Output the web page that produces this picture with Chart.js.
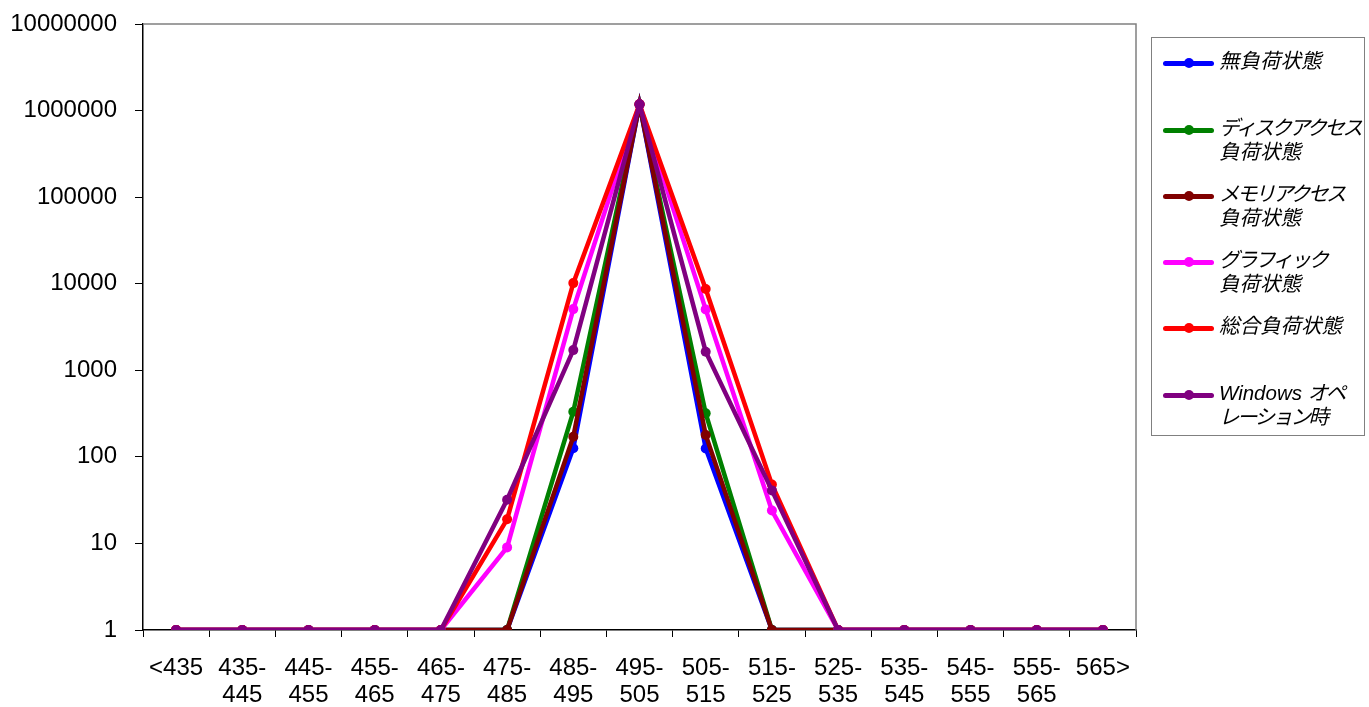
<!DOCTYPE html>
<html>
<head>
<meta charset="utf-8">
<script src="https://cdn.jsdelivr.net/npm/chart.js@4/dist/chart.umd.min.js"></script>
<style>
    html, body { margin: 0; padding: 0; background: #fff; }
    #wrap { position: relative; width: 1369px; height: 707px; }
    #legend {
        position: absolute; left: 1151px; top: 37px; width: 214px; height: 399px;
        border: 1px solid #808080; box-sizing: border-box;
        font-family: 'Liberation Sans', 'Noto Sans CJK JP', sans-serif;
        font-style: italic; font-size: 20.5px; color: #000;
    }
    .item { position: absolute; left: 0; }
    .item .mark { position: absolute; left: 11px; width: 51px; height: 5px; border-radius: 2.5px; top: -0.5px; }
    .item .dot { position: absolute; left: 32px; width: 10px; height: 10px; border-radius: 50%; top: -3px; }
    .item .txt { position: absolute; left: 67px; top: -12px; white-space: nowrap; line-height: 24px; }
    .item .kana { letter-spacing: -2.5px; }
</style>
</head>
<body>
<div id="wrap">
    <canvas id="chart" width="1369" height="707"></canvas>
    <div id="legend"></div>
</div>
<script>
// ============================================================
// DATA
// ============================================================
const categories = [
    ['<435'], ['435-', '445'], ['445-', '455'], ['455-', '465'], ['465-', '475'],
    ['475-', '485'], ['485-', '495'], ['495-', '505'], ['505-', '515'], ['515-', '525'],
    ['525-', '535'], ['535-', '545'], ['545-', '555'], ['555-', '565'], ['565>']
];

const yTicks = [1, 10, 100, 1000, 10000, 100000, 1000000, 10000000];

const seriesNames = [
    ['無負荷状態'],
    ['ディスクアクセス', '負荷状態'],
    ['メモリアクセス', '負荷状態'],
    ['グラフィック', '負荷状態'],
    ['総合負荷状態'],
    ['Windows オペ', 'レーション時']
];

const noLoad   = [1, 1, 1, 1, 1, 1, 126, 1180000, 125, 1, 1, 1, 1, 1, 1];
const diskLoad = [1, 1, 1, 1, 1, 1, 332, 1180000, 318, 1, 1, 1, 1, 1, 1];
const memLoad  = [1, 1, 1, 1, 1, 1, 171, 1180000, 179, 1, 1, 1, 1, 1, 1];
const gfxLoad  = [1, 1, 1, 1, 1, 9, 5090, 1180000, 5050, 24, 1, 1, 1, 1, 1];
const allLoad  = [1, 1, 1, 1, 1, 19, 10160, 1180000, 8670, 48, 1, 1, 1, 1, 1];
const winOp    = [1, 1, 1, 1, 1, 32, 1710, 1180000, 1640, 41, 1, 1, 1, 1, 1];

const seriesData = [noLoad, diskLoad, memLoad, gfxLoad, allLoad, winOp];
const seriesColors = ['#0000ff', '#008000', '#800000', '#ff00ff', '#ff0000', '#800080'];

// ============================================================
// CHART
// ============================================================
const xFont = { family: 'Liberation Sans', size: 24, lineHeight: 1.13 };
// small lineHeight only shrinks the overflow padding at the top label
const yFont = { family: 'Liberation Sans', size: 24, lineHeight: 0.5 };

// gray border on top and right of plot area
const plotBorder = {
    id: 'plotBorder',
    beforeDatasetsDraw: function (chart) {
        const a = chart.chartArea, c = chart.ctx;
        c.save();
        c.strokeStyle = '#808080';
        c.lineWidth = 1.5;
        c.beginPath();
        c.moveTo(a.left, a.top);
        c.lineTo(a.right, a.top);
        c.lineTo(a.right, a.bottom);
        c.stroke();
        c.restore();
    }
};

const datasets = seriesData.map(function (d, i) {
    return {
        label: seriesNames[i].join(''),
        data: d,
        borderColor: seriesColors[i],
        backgroundColor: seriesColors[i],
        pointBackgroundColor: seriesColors[i],
        pointBorderWidth: 0,
        pointRadius: 5,
        borderWidth: 4.5,
        tension: 0,
        order: seriesData.length - i
    };
});

new Chart(document.getElementById('chart'), {
    type: 'line',
    data: { labels: categories, datasets: datasets },
    plugins: [plotBorder],
    options: {
        responsive: false,
        animation: false,
        layout: { padding: { top: 24, right: 233, left: 0, bottom: 0 } },
        plugins: { legend: { display: false }, tooltip: { enabled: false } },
        scales: {
            x: {
                offset: true,
                grid: { offset: true, drawOnChartArea: false, tickLength: 7, color: '#000', lineWidth: 1 },
                border: { color: '#000', width: 1.5 },
                ticks: { font: xFont, color: '#000', padding: 18, maxRotation: 0, autoSkip: false },
                afterFit: function (s) { s.height = 77; }
            },
            y: {
                type: 'logarithmic',
                min: 1,
                max: 10000000,
                afterBuildTicks: function (s) { s.ticks = yTicks.map(function (v) { return { value: v }; }); },
                grid: { drawOnChartArea: false, tickLength: 8, color: '#000', lineWidth: 1 },
                border: { color: '#000', width: 1.5 },
                ticks: {
                    font: yFont, color: '#000', padding: 18,
                    callback: function (v) { return String(v); }
                },
                afterFit: function (s) { s.width = 143; }
            }
        }
    }
});

// ============================================================
// LEGEND (html, multi-line labels)
// ============================================================
const legendTops = [23, 90, 156, 222, 288, 355];
const legend = document.getElementById('legend');
seriesNames.forEach(function (name, i) {
    const item = document.createElement('div');
    item.className = 'item';
    item.style.top = legendTops[i] + 'px';
    // katakana runs are set a bit tighter, like the proportional font of the original
    const lines = name.map(function (t) {
        return t.replace(/[\u30a0-\u30ff]+/g, function (m) { return '<span class="kana">' + m + '</span>'; });
    });
    item.innerHTML = '<div class="mark" style="background:' + seriesColors[i] + '"></div>' +
        '<div class="dot" style="background:' + seriesColors[i] + '"></div>' +
        '<div class="txt">' + lines.join('<br>') + '</div>';
    legend.appendChild(item);
});
</script>
</body>
</html>
